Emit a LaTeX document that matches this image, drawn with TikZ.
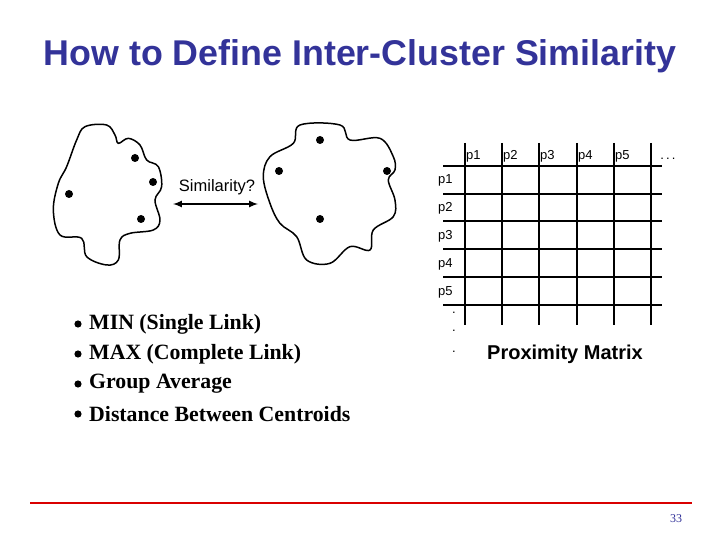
\documentclass[tikz,border=0pt]{standalone}
\usepackage{fontspec}
\setmainfont{Liberation Serif}
\setsansfont{Liberation Sans}
\definecolor{ttl}{RGB}{51,51,153}
\begin{document}
\begin{tikzpicture}[x=1pt,y=-1pt,
  lbl/.style={font=\sffamily\fontsize{13}{13}\selectfont,inner sep=0pt},
  blt/.style={font=\rmfamily\bfseries\fontsize{21.8}{21.8}\selectfont,anchor=west,inner sep=0pt},
  pt/.style={circle,fill=black,inner sep=0pt,minimum size=8pt},
  grid/.style={line width=1.5pt}]
\useasboundingbox (0,0) rectangle (720,540);
\node[font=\sffamily\bfseries\fontsize{35.8}{35.8}\selectfont,text=ttl] (title) at (360,56) {How to Define Inter-Cluster Similarity};
% blobs
\begin{scope}[shift={(40,120)},x=0.3333pt,y=-0.3333pt,line width=1.5pt]
\draw plot[smooth cycle,tension=0.6] coordinates {(135,20)(200,15)(225,45)(235,70)(265,55)(300,75)(320,120)(355,140)(365,200)(345,240)(360,300)(340,330)(270,340)(240,360)(235,420)(200,435)(140,410)(125,355)(60,345)(40,270)(55,190)(80,140)(110,60)};
\draw plot[smooth cycle,tension=0.6] coordinates {(690,110)(760,70)(780,15)(900,15)(930,60)(1020,55)(1060,110)(1065,150)(1045,180)(1065,240)(1060,290)(1000,330)(990,390)(930,380)(870,430)(800,420)(770,350)(720,310)(690,250)(670,170)};
\end{scope}
\node[pt] (a1) at (135,158) {}; \node[pt] (a2) at (153,182) {};
\node[pt] (a3) at (141,219) {}; \node[pt] (a4) at (69,194) {};
\node[pt] (b1) at (320,140) {}; \node[pt] (b2) at (279,171) {};
\node[pt] (b3) at (387,171) {}; \node[pt] (b4) at (320,219) {};
\coordinate (s1) at (173,204); \coordinate (s2) at (258,204);
\draw[line width=2pt,<->,>=latex] (s1) -- (s2);
\node[lbl,font=\sffamily\fontsize{16.5}{16.5}\selectfont] (sim) at (217,187) {Similarity?};
% matrix
\foreach \x in {465,502,539,577,614,651} \draw[grid] (\x,143) -- (\x,325);
\foreach \y in {166,194,221,249,277,305} \draw[grid] (443,\y) -- (662,\y);
\foreach \x/\t in {465/p1,502/p2,539/p3,577/p4,614/p5} \node[lbl,anchor=west] at (\x+1,156) {\t};
\foreach \y/\t in {180/p1,208/p2,236/p3,264/p4,292/p5} \node[lbl,anchor=west] at (438,\y) {\t};
\node[lbl] (dd) at (668,159) {.\,.\,.};
\foreach \y in {313,331,352} \node[lbl] at (454,\y) {.};
\node[lbl,font=\sffamily\bfseries\fontsize{20}{20}\selectfont] (pm) at (565,354) {Proximity Matrix};
% bullets
\foreach \y/\t in {324/MIN (Single Link),354/MAX (Complete Link),384/Group Average,414/Distance Between Centroids}{
  \fill (78,\y) circle (3.6pt);
  \node[blt] at (89,\y) {\t};}
\draw[red!85!black,line width=1.2pt] (30,503) -- (692,503);
\node[font=\rmfamily\fontsize{12}{12}\selectfont,text=ttl] (pg) at (676,519) {33};
\end{tikzpicture}
\end{document}
